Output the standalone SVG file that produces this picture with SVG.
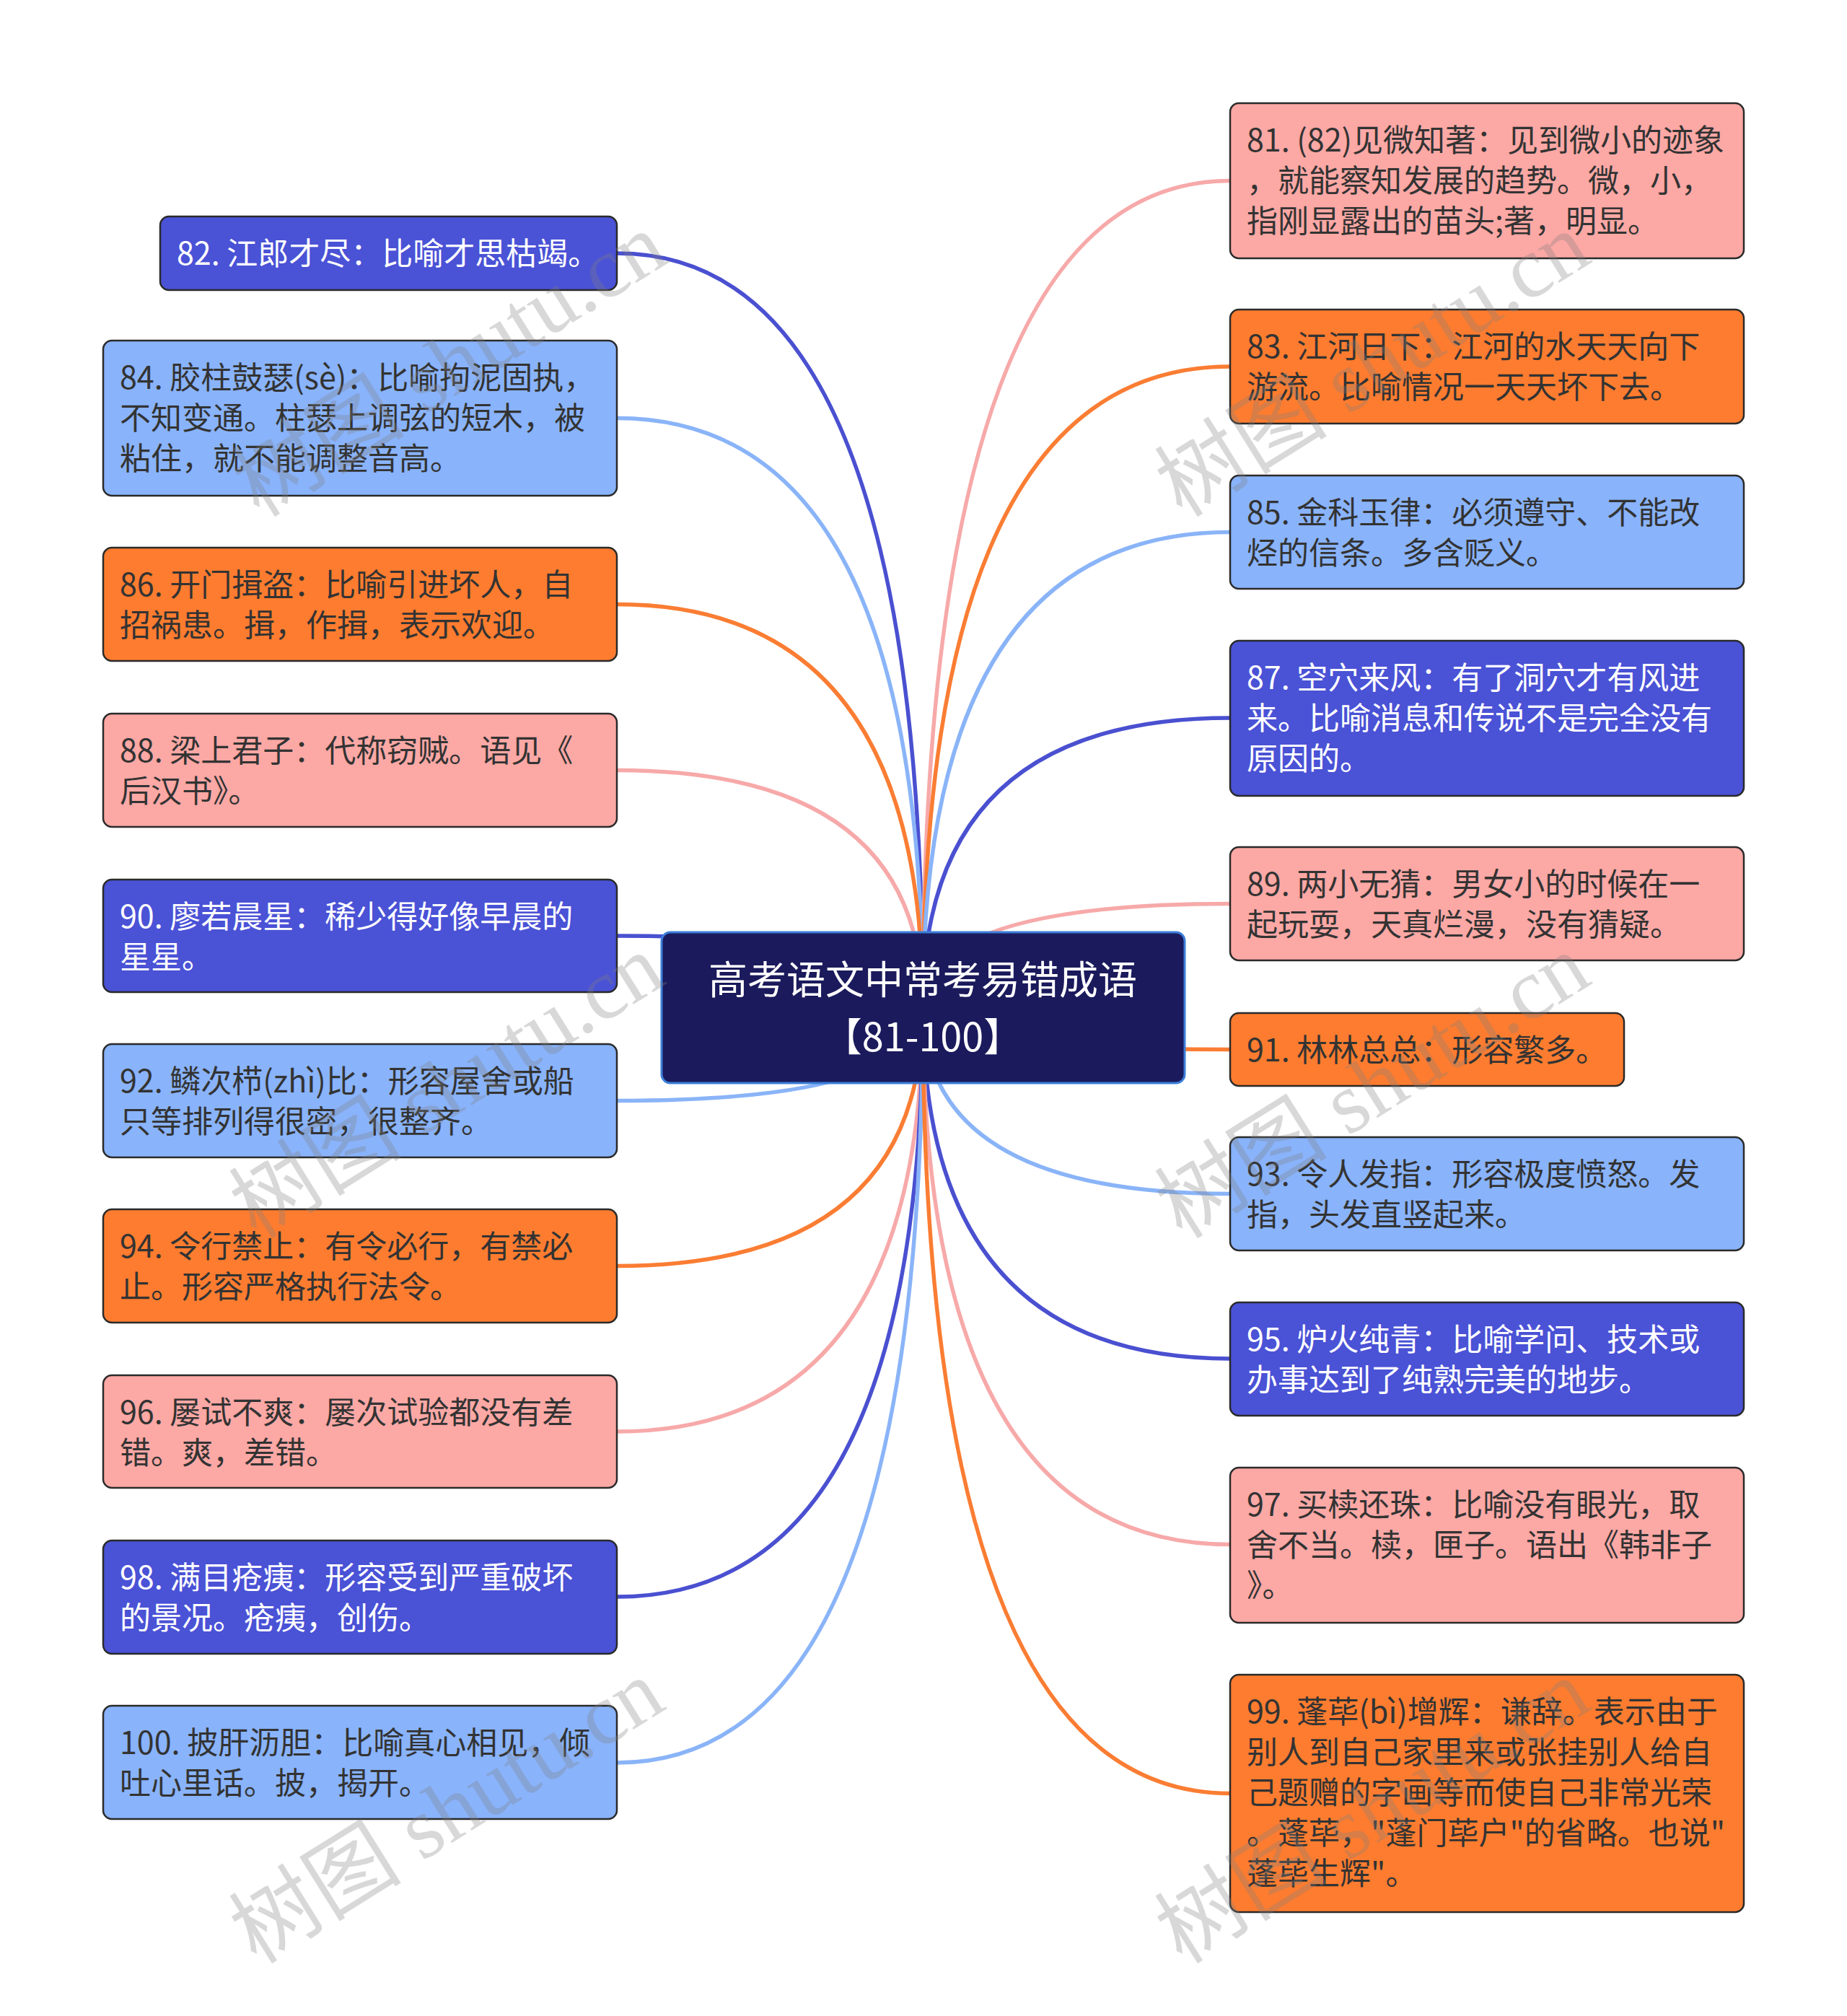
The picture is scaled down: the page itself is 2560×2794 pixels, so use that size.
<svg xmlns="http://www.w3.org/2000/svg" width="2560" height="2794" viewBox="0 0 2560 2794">
<style>
.box{stroke:#2a2a2a;stroke-width:2.5}
.pink{fill:#FCA8A5}
.orange{fill:#FE7C2F}
.lblue{fill:#89B3FB}
.dblue{fill:#4A52D6}
.t{font-family:"Noto Sans CJK SC","Noto Sans",sans-serif;font-size:43px;fill:#333333}
.wt{fill:#ffffff}
.c{fill:none;stroke-width:5.5;stroke-linecap:round}
.cp{stroke:#F7A9A9}
.co{stroke:#FA7D33}
.cl{stroke:#8AB4F8}
.cd{stroke:#4A50D0}
.wm{font-family:"Liberation Serif","Noto Sans CJK SC",serif;font-size:120px;fill:#808080;opacity:0.3}
</style>
<rect width="2560" height="2794" fill="#ffffff"/>
<g id="connectors">
<path class="c cd" d="M1279,1396 Q1279,351 855,351"/>
<path class="c cl" d="M1279,1396 Q1279,579.5 855,579.5"/>
<path class="c co" d="M1279,1396 Q1279,837.5 855,837.5"/>
<path class="c cp" d="M1279,1396 Q1279,1067.5 855,1067.5"/>
<path class="c cd" d="M1279,1396 Q1279,1297 855,1297"/>
<path class="c cl" d="M1279,1396 Q1279,1525.5 855,1525.5"/>
<path class="c co" d="M1279,1396 Q1279,1754.5 855,1754.5"/>
<path class="c cp" d="M1279,1396 Q1279,1984 855,1984"/>
<path class="c cd" d="M1279,1396 Q1279,2213 855,2213"/>
<path class="c cl" d="M1279,1396 Q1279,2443 855,2443"/>
<path class="c cp" d="M1279,1396 Q1279,250.5 1705,250.5"/>
<path class="c co" d="M1279,1396 Q1279,508 1705,508"/>
<path class="c cl" d="M1279,1396 Q1279,737.5 1705,737.5"/>
<path class="c cd" d="M1279,1396 Q1279,995 1705,995"/>
<path class="c cp" d="M1279,1396 Q1279,1252.5 1705,1252.5"/>
<path class="c co" d="M1279,1396 Q1279,1454.5 1705,1454.5"/>
<path class="c cl" d="M1279,1396 Q1279,1654.5 1705,1654.5"/>
<path class="c cd" d="M1279,1396 Q1279,1883 1705,1883"/>
<path class="c cp" d="M1279,1396 Q1279,2140.5 1705,2140.5"/>
<path class="c co" d="M1279,1396 Q1279,2485.5 1705,2485.5"/>
</g>
<g id="center">
<rect x="917" y="1292" width="725" height="209" rx="12" fill="#1B1A5C" stroke="#3B7ED8" stroke-width="3"/>
<text text-anchor="middle" font-family="Noto Sans CJK SC, Noto Sans, sans-serif" font-size="54" fill="#ffffff"><tspan x="1279" y="1378">高考语文中常考易错成语</tspan><tspan x="1279" y="1457">【81-100】</tspan></text>
</g>
<g id="n82"><rect class="box dblue" x="222" y="300" width="633" height="102" rx="12"/><text class="t wt"><tspan x="245" y="367">82. 江郎才尽：比喻才思枯竭。</tspan></text></g>
<g id="n84"><rect class="box lblue" x="143" y="472" width="712" height="215" rx="12"/><text class="t"><tspan x="166" y="539">84. 胶柱鼓瑟(sè)：比喻拘泥固执，</tspan><tspan x="166" y="595">不知变通。柱瑟上调弦的短木，被</tspan><tspan x="166" y="651">粘住，就不能调整音高。</tspan></text></g>
<g id="n86"><rect class="box orange" x="143" y="759" width="712" height="157" rx="12"/><text class="t"><tspan x="166" y="826">86. 开门揖盗：比喻引进坏人，自</tspan><tspan x="166" y="882">招祸患。揖，作揖，表示欢迎。</tspan></text></g>
<g id="n88"><rect class="box pink" x="143" y="989" width="712" height="157" rx="12"/><text class="t"><tspan x="166" y="1056">88. 梁上君子：代称窃贼。语见《</tspan><tspan x="166" y="1112">后汉书》。</tspan></text></g>
<g id="n90"><rect class="box dblue" x="143" y="1219" width="712" height="156" rx="12"/><text class="t wt"><tspan x="166" y="1286">90. 廖若晨星：稀少得好像早晨的</tspan><tspan x="166" y="1342">星星。</tspan></text></g>
<g id="n92"><rect class="box lblue" x="143" y="1447" width="712" height="157" rx="12"/><text class="t"><tspan x="166" y="1514">92. 鳞次栉(zhì)比：形容屋舍或船</tspan><tspan x="166" y="1570">只等排列得很密，很整齐。</tspan></text></g>
<g id="n94"><rect class="box orange" x="143" y="1676" width="712" height="157" rx="12"/><text class="t"><tspan x="166" y="1743">94. 令行禁止：有令必行，有禁必</tspan><tspan x="166" y="1799">止。形容严格执行法令。</tspan></text></g>
<g id="n96"><rect class="box pink" x="143" y="1906" width="712" height="156" rx="12"/><text class="t"><tspan x="166" y="1973">96. 屡试不爽：屡次试验都没有差</tspan><tspan x="166" y="2029">错。爽，差错。</tspan></text></g>
<g id="n98"><rect class="box dblue" x="143" y="2135" width="712" height="157" rx="12"/><text class="t wt"><tspan x="166" y="2202">98. 满目疮痍：形容受到严重破坏</tspan><tspan x="166" y="2258">的景况。疮痍，创伤。</tspan></text></g>
<g id="n100"><rect class="box lblue" x="143" y="2364" width="712" height="157" rx="12"/><text class="t"><tspan x="166" y="2431">100. 披肝沥胆：比喻真心相见，倾</tspan><tspan x="166" y="2487">吐心里话。披，揭开。</tspan></text></g>
<g id="n81"><rect class="box pink" x="1705" y="143" width="712" height="215" rx="12"/><text class="t"><tspan x="1728" y="210">81. (82)见微知著：见到微小的迹象</tspan><tspan x="1728" y="266">，就能察知发展的趋势。微，小，</tspan><tspan x="1728" y="322">指刚显露出的苗头;著，明显。</tspan></text></g>
<g id="n83"><rect class="box orange" x="1705" y="429" width="712" height="158" rx="12"/><text class="t"><tspan x="1728" y="496">83. 江河日下：江河的水天天向下</tspan><tspan x="1728" y="552">游流。比喻情况一天天坏下去。</tspan></text></g>
<g id="n85"><rect class="box lblue" x="1705" y="659" width="712" height="157" rx="12"/><text class="t"><tspan x="1728" y="726">85. 金科玉律：必须遵守、不能改</tspan><tspan x="1728" y="782">烃的信条。多含贬义。</tspan></text></g>
<g id="n87"><rect class="box dblue" x="1705" y="888" width="712" height="215" rx="12"/><text class="t wt"><tspan x="1728" y="955">87. 空穴来风：有了洞穴才有风进</tspan><tspan x="1728" y="1011">来。比喻消息和传说不是完全没有</tspan><tspan x="1728" y="1067">原因的。</tspan></text></g>
<g id="n89"><rect class="box pink" x="1705" y="1174" width="712" height="157" rx="12"/><text class="t"><tspan x="1728" y="1241">89. 两小无猜：男女小的时候在一</tspan><tspan x="1728" y="1297">起玩耍，天真烂漫，没有猜疑。</tspan></text></g>
<g id="n91"><rect class="box orange" x="1705" y="1404" width="546" height="101" rx="12"/><text class="t"><tspan x="1728" y="1471">91. 林林总总：形容繁多。</tspan></text></g>
<g id="n93"><rect class="box lblue" x="1705" y="1576" width="712" height="157" rx="12"/><text class="t"><tspan x="1728" y="1643">93. 令人发指：形容极度愤怒。发</tspan><tspan x="1728" y="1699">指，头发直竖起来。</tspan></text></g>
<g id="n95"><rect class="box dblue" x="1705" y="1805" width="712" height="157" rx="12"/><text class="t wt"><tspan x="1728" y="1872">95. 炉火纯青：比喻学问、技术或</tspan><tspan x="1728" y="1928">办事达到了纯熟完美的地步。</tspan></text></g>
<g id="n97"><rect class="box pink" x="1705" y="2034" width="712" height="215" rx="12"/><text class="t"><tspan x="1728" y="2101">97. 买椟还珠：比喻没有眼光，取</tspan><tspan x="1728" y="2157">舍不当。椟，匣子。语出《韩非子</tspan><tspan x="1728" y="2213">》。</tspan></text></g>
<g id="n99"><rect class="box orange" x="1705" y="2321" width="712" height="329" rx="12"/><text class="t"><tspan x="1728" y="2388">99. 蓬荜(bì)增辉：谦辞。表示由于</tspan><tspan x="1728" y="2444">别人到自己家里来或张挂别人给自</tspan><tspan x="1728" y="2500">己题赠的字画等而使自己非常光荣</tspan><tspan x="1728" y="2556">。蓬荜，"蓬门荜户"的省略。也说"</tspan><tspan x="1728" y="2612">蓬荜生辉"。</tspan></text></g>
<g id="watermarks">
<text class="wm" text-anchor="middle" transform="translate(645,540) rotate(-32)">树图 shutu.cn</text>
<text class="wm" text-anchor="middle" transform="translate(1924,540) rotate(-32)">树图 shutu.cn</text>
<text class="wm" text-anchor="middle" transform="translate(641,1540) rotate(-32)">树图 shutu.cn</text>
<text class="wm" text-anchor="middle" transform="translate(1924,1540) rotate(-32)">树图 shutu.cn</text>
<text class="wm" text-anchor="middle" transform="translate(641,2545) rotate(-32)">树图 shutu.cn</text>
<text class="wm" text-anchor="middle" transform="translate(1924,2545) rotate(-32)">树图 shutu.cn</text>
</g>
</svg>
